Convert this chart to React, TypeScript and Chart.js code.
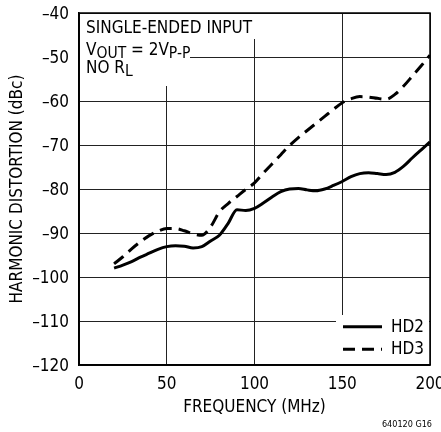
import React, { useEffect, useRef } from "react";
import { Chart, registerables } from "chart.js";

Chart.register(...registerables);

const FREQ = [20, 25, 30, 35, 40, 45, 50, 55, 60, 65, 70, 75, 80, 85, 90, 95, 100, 105, 110, 115, 120, 125, 130, 135, 140, 145, 150, 155, 160, 165, 170, 175, 180, 185, 190, 195, 200];
const HD2 = [-98, -97.3, -96.5, -95.5, -94.6, -93.7, -93.1, -92.9, -93.0, -93.4, -93.1, -91.8, -90.5, -87.8, -84.7, -84.9, -84.4, -83.2, -81.8, -80.6, -80.0, -79.9, -80.2, -80.4, -80.0, -79.2, -78.3, -77.2, -76.5, -76.3, -76.5, -76.7, -76.2, -74.8, -72.9, -71.1, -69.3];
const HD3 = [-97.0, -95.4, -93.6, -92.0, -90.6, -89.6, -89.0, -89.0, -89.5, -90.2, -90.5, -88.6, -85.2, -83.3, -81.7, -80.1, -78.6, -76.4, -74.3, -72.2, -70.1, -68.3, -66.7, -65.1, -63.5, -61.9, -60.4, -59.5, -59.0, -59.1, -59.4, -59.6, -58.5, -56.6, -54.3, -52.0, -49.6];
const X_TICKS = [0, 50, 100, 150, 200];
const Y_TICKS = [-120, -110, -100, -90, -80, -70, -60, -50, -40];
const SERIES_NAMES = ["HD2", "HD3"];
const NOTE_LINE1 = "SINGLE-ENDED INPUT";
const X_TITLE = "FREQUENCY (MHz)";
const Y_TITLE = "HARMONIC DISTORTION (dBc)";
const FOOTNOTE = "640120 G16";

const FONT = '"DejaVu Sans Condensed", "Liberation Sans", Arial, sans-serif';
const FS = 17;
const DASH = [12, 7];

type Run = { t: string; sub?: boolean };

function drawRuns(ctx: CanvasRenderingContext2D, x: number, y: number, runs: Run[]) {
  let cx = x;
  for (const r of runs) {
    ctx.font = r.sub ? `15.5px ${FONT}` : `${FS}px ${FONT}`;
    ctx.fillText(r.t, cx, r.sub ? y + 3.4 : y);
    cx += ctx.measureText(r.t).width;
  }
}

const notesPlugin = {
  id: "notes",
  beforeDatasetsDraw(chart: any) {
    const ctx: CanvasRenderingContext2D = chart.ctx;
    const a = chart.chartArea;
    ctx.save();
    ctx.fillStyle = "#fff";
    // masks behind the note text
    ctx.fillRect(a.left + 1, a.top + 1, 176, 25);
    ctx.fillRect(a.left + 1, a.top + 25, 110, 26);
    ctx.fillRect(a.left + 1, a.top + 50, 90, 23);
    // legend mask
    ctx.fillRect(a.right - 94, a.bottom - 50, 93, 49);
    // frame
    ctx.strokeStyle = "#000";
    ctx.lineWidth = 1.5;
    ctx.strokeRect(a.left, a.top, a.right - a.left, a.bottom - a.top);
    // notes
    ctx.fillStyle = "#000";
    ctx.textBaseline = "alphabetic";
    ctx.textAlign = "left";
    drawRuns(ctx, a.left + 7, 33.3, [{ t: NOTE_LINE1 }]);
    drawRuns(ctx, a.left + 7, 55, [{ t: "V" }, { t: "OUT", sub: true }, { t: " = 2V" }, { t: "P-P", sub: true }]);
    drawRuns(ctx, a.left + 7, 72.7, [{ t: "NO R" }, { t: "L", sub: true }]);
    // legend
    const ds = chart.data.datasets;
    const rows = [326.7, 349.3];
    ds.forEach((d: any, i: number) => {
      ctx.beginPath();
      ctx.strokeStyle = d.borderColor;
      ctx.lineWidth = d.borderWidth;
      ctx.setLineDash(d.borderDash || []);
      ctx.moveTo(a.right - 87, rows[i]);
      ctx.lineTo(a.right - 48, rows[i]);
      ctx.stroke();
      ctx.setLineDash([]);
      ctx.font = `${FS}px ${FONT}`;
      ctx.fillStyle = "#000";
      ctx.textBaseline = "middle";
      ctx.fillText(d.label, a.right - 39, rows[i] + 0.5);
    });
    // footnote
    ctx.font = `9px ${FONT}`;
    ctx.textAlign = "right";
    ctx.textBaseline = "alphabetic";
    ctx.fillText(FOOTNOTE, 432, 427);
    ctx.restore();
  },
};

export default function App() {
  const ref = useRef<HTMLCanvasElement>(null);
  useEffect(() => {
    if (!ref.current) return;
    const chart = new Chart(ref.current, {
      type: "line",
      data: {
        datasets: [
          {
            label: SERIES_NAMES[0],
            data: FREQ.map((x, i) => ({ x, y: HD2[i] })),
            borderColor: "#000",
            borderWidth: 3,
            pointRadius: 0,
            fill: false,
            cubicInterpolationMode: "monotone",
          },
          {
            label: SERIES_NAMES[1],
            data: FREQ.map((x, i) => ({ x, y: HD3[i] })),
            borderColor: "#000",
            borderWidth: 3,
            borderDash: DASH,
            pointRadius: 0,
            fill: false,
            cubicInterpolationMode: "monotone",
          },
        ] as any,
      },
      options: {
        animation: false,
        responsive: false,
        devicePixelRatio: 1,
        layout: { padding: { top: 13, right: 11, left: 0, bottom: 0 } },
        plugins: { legend: { display: false }, tooltip: { enabled: false } },
        scales: {
          x: {
            type: "linear",
            min: 0,
            max: 200,
            afterBuildTicks: (s: any) => {
              s.ticks = X_TICKS.map((v) => ({ value: v }));
            },
            ticks: {
              color: "#000",
              font: { family: FONT, size: FS },
              padding: 9,
              maxRotation: 0,
              callback: (v: any) => String(v),
            },
            grid: { color: "#222", lineWidth: 1, drawTicks: false },
            border: { color: "#000", width: 1.5 },
            title: {
              display: true,
              text: X_TITLE,
              color: "#000",
              font: { family: FONT, size: FS },
              padding: { top: 0, bottom: 14 },
            },
            afterFit: (s: any) => {
              s.height = 67;
              s.paddingLeft = 0;
              s.paddingRight = 0;
            },
          },
          y: {
            type: "linear",
            min: -120,
            max: -40,
            afterBuildTicks: (s: any) => {
              s.ticks = Y_TICKS.map((v) => ({ value: v }));
            },
            ticks: {
              color: "#000",
              font: { family: FONT, size: FS },
              padding: 10,
              labelOffset: 1.5,
              callback: (v: any) => (Number(v) < 0 ? "\u2013" + Math.abs(Number(v)) : String(v)),
            },
            grid: { color: "#222", lineWidth: 1, drawTicks: false },
            border: { color: "#000", width: 1.5 },
            title: {
              display: true,
              text: Y_TITLE,
              color: "#000",
              font: { family: FONT, size: FS },
              padding: { top: 7, bottom: 0 },
            },
            afterFit: (s: any) => {
              s.width = 79;
              s.paddingTop = 0;
              s.paddingBottom = 0;
            },
          },
        },
      },
      plugins: [notesPlugin],
    });
    return () => chart.destroy();
  }, []);
  return (
    <div style={{ position: "fixed", left: 0, top: 0, width: 441, height: 432, background: "#fff" }}>
      <canvas ref={ref} width={441} height={432} style={{ display: "block", width: 441, height: 432 }} />
    </div>
  );
}
